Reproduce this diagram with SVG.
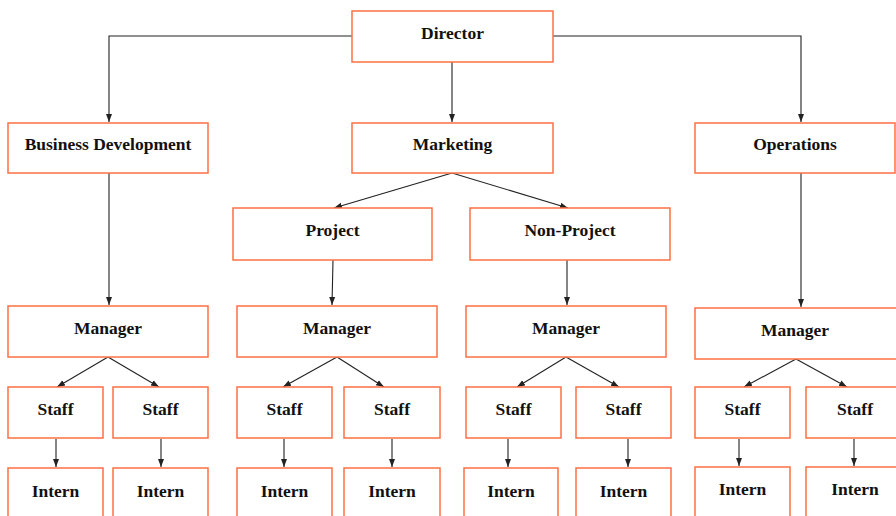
<svg xmlns="http://www.w3.org/2000/svg" width="896" height="516" viewBox="0 0 896 516">
<defs>
<marker id="ah" viewBox="0 0 8 8" refX="8" refY="4" markerWidth="8" markerHeight="8" markerUnits="userSpaceOnUse" orient="auto">
<path d="M0,1 L8,4 L0,7 Z" fill="#222"/>
</marker>
<style>
.box{fill:#fff;stroke:#FF7043;stroke-width:1.5}
.lbl{font-family:"Liberation Serif","Times New Roman",serif;font-weight:bold;font-size:17.5px;fill:#111;text-anchor:middle}
.c{fill:none;stroke:#222;stroke-width:1.1;marker-end:url(#ah)}
</style>
</defs>
<rect width="896" height="516" fill="#fff"/>
<g id="connectors">
<path class="c" d="M352,36 H109 V122"/>
<path class="c" d="M553,36 H801 V122"/>
<path class="c" d="M452,62 V122"/>
<path class="c" d="M452,173 L334,208"/>
<path class="c" d="M452,173 L568,208"/>
<path class="c" d="M109,173 V305"/>
<path class="c" d="M333,260 L332,305"/>
<path class="c" d="M567,260 V305"/>
<path class="c" d="M801,173 V307"/>
<path class="c" d="M108,357 L57,387"/>
<path class="c" d="M108,357 L159,387"/>
<path class="c" d="M337,357 L283,387"/>
<path class="c" d="M337,357 L384,387"/>
<path class="c" d="M566,357 L517,387"/>
<path class="c" d="M566,357 L619,387"/>
<path class="c" d="M796,359 L744,387"/>
<path class="c" d="M796,359 L847,387"/>
<path class="c" d="M56,439 V467"/>
<path class="c" d="M161,439 V467"/>
<path class="c" d="M284,439 V467"/>
<path class="c" d="M392,439 V467"/>
<path class="c" d="M508,439 V467"/>
<path class="c" d="M628,439 V467"/>
<path class="c" d="M739,439 V466"/>
<path class="c" d="M854,439 V466"/>
</g>
<g id="director"><rect class="box" x="352" y="11" width="201" height="51"/><text class="lbl" x="452.5" y="38.5">Director</text></g>
<g id="business-development"><rect class="box" x="8" y="123" width="200" height="50"/><text class="lbl" x="108" y="150">Business Development</text></g>
<g id="marketing"><rect class="box" x="352" y="123" width="201" height="50"/><text class="lbl" x="452.5" y="150">Marketing</text></g>
<g id="operations"><rect class="box" x="695" y="123" width="200" height="50"/><text class="lbl" x="795" y="150">Operations</text></g>
<g id="project"><rect class="box" x="233" y="208" width="199" height="52"/><text class="lbl" x="332.5" y="236">Project</text></g>
<g id="non-project"><rect class="box" x="470" y="208" width="200" height="52"/><text class="lbl" x="570" y="236">Non-Project</text></g>
<g id="manager-bd"><rect class="box" x="8" y="306" width="200" height="51"/><text class="lbl" x="108" y="334">Manager</text></g>
<g id="manager-project"><rect class="box" x="237" y="306" width="200" height="51"/><text class="lbl" x="337" y="334">Manager</text></g>
<g id="manager-nonproject"><rect class="box" x="466" y="306" width="200" height="51"/><text class="lbl" x="566" y="334">Manager</text></g>
<g id="manager-ops"><rect class="box" x="695" y="308" width="202" height="51"/><text class="lbl" x="795" y="336">Manager</text></g>
<g id="staff-bd-1"><rect class="box" x="8" y="387" width="95" height="51"/><text class="lbl" x="55.5" y="415">Staff</text></g>
<g id="staff-bd-2"><rect class="box" x="113" y="387" width="95" height="51"/><text class="lbl" x="160.5" y="415">Staff</text></g>
<g id="staff-project-1"><rect class="box" x="237" y="387" width="95" height="51"/><text class="lbl" x="284.5" y="415">Staff</text></g>
<g id="staff-project-2"><rect class="box" x="344" y="387" width="96" height="51"/><text class="lbl" x="392" y="415">Staff</text></g>
<g id="staff-nonproject-1"><rect class="box" x="466" y="387" width="95" height="51"/><text class="lbl" x="513.5" y="415">Staff</text></g>
<g id="staff-nonproject-2"><rect class="box" x="576" y="387" width="95" height="51"/><text class="lbl" x="623.5" y="415">Staff</text></g>
<g id="staff-ops-1"><rect class="box" x="695" y="387" width="95" height="51"/><text class="lbl" x="742.5" y="415">Staff</text></g>
<g id="staff-ops-2"><rect class="box" x="806" y="387" width="95" height="51"/><text class="lbl" x="855" y="415">Staff</text></g>
<g id="intern-bd-1"><rect class="box" x="8" y="468" width="95" height="55"/><text class="lbl" x="55.5" y="497">Intern</text></g>
<g id="intern-bd-2"><rect class="box" x="113" y="468" width="95" height="55"/><text class="lbl" x="160.5" y="497">Intern</text></g>
<g id="intern-project-1"><rect class="box" x="237" y="468" width="95" height="55"/><text class="lbl" x="284.5" y="497">Intern</text></g>
<g id="intern-project-2"><rect class="box" x="344" y="468" width="96" height="55"/><text class="lbl" x="392" y="497">Intern</text></g>
<g id="intern-nonproject-1"><rect class="box" x="464" y="468" width="94" height="55"/><text class="lbl" x="511" y="497">Intern</text></g>
<g id="intern-nonproject-2"><rect class="box" x="576" y="468" width="95" height="55"/><text class="lbl" x="623.5" y="497">Intern</text></g>
<g id="intern-ops-1"><rect class="box" x="695" y="467" width="95" height="56"/><text class="lbl" x="742.5" y="495">Intern</text></g>
<g id="intern-ops-2"><rect class="box" x="806" y="467" width="95" height="56"/><text class="lbl" x="855" y="495">Intern</text></g>
</svg>
